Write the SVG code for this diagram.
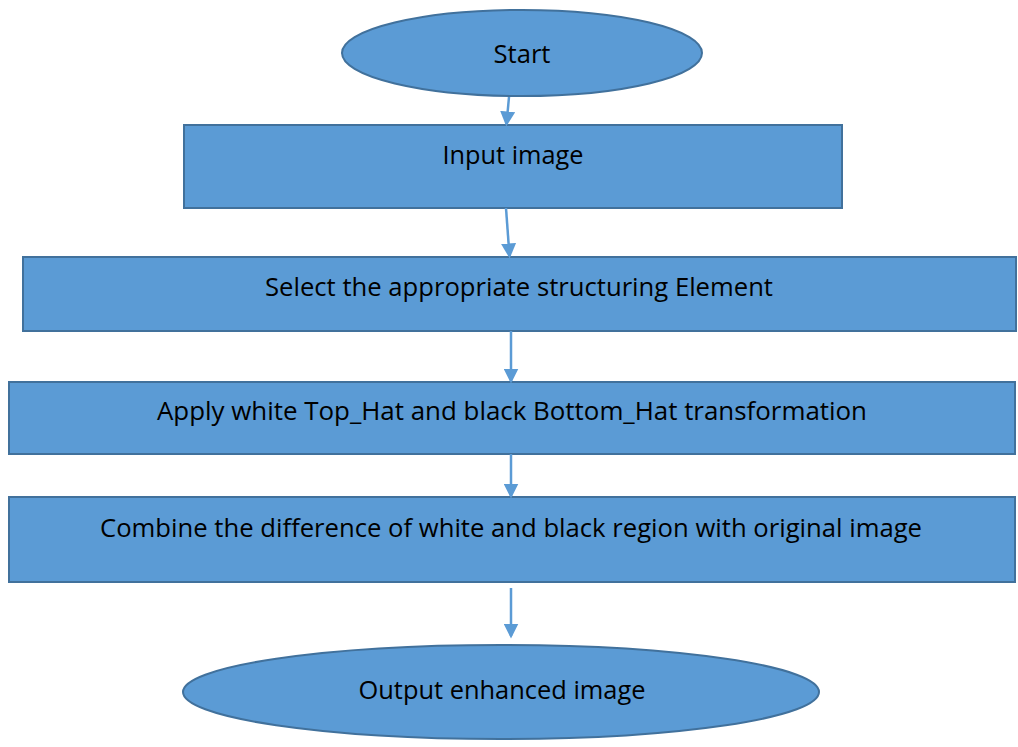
<svg xmlns="http://www.w3.org/2000/svg" width="1018" height="747" viewBox="0 0 1018 747">
<style>
.n{fill:#5B9BD5;stroke:#41719C;stroke-width:2}
.t{font-family:"Open Sans","Liberation Sans",sans-serif;font-size:25px;fill:#000;text-anchor:middle}
.c{stroke:#5B9BD5;stroke-width:2.5;fill:none}
</style>
<defs>
<marker id="ah" markerWidth="6" markerHeight="6" refX="5" refY="3" orient="auto" markerUnits="strokeWidth">
<path d="M0,0 L6,3 L0,6 Z" fill="#5B9BD5"/>
</marker>
</defs>
<rect width="1018" height="747" fill="#fff"/>
<g id="start"><ellipse class="n" cx="522" cy="53" rx="180" ry="43"/><text class="t" x="522" y="63" textLength="57" lengthAdjust="spacingAndGlyphs">Start</text></g>
<g id="input"><rect class="n" x="184" y="125" width="658" height="83"/><text class="t" x="513" y="164" textLength="141" lengthAdjust="spacingAndGlyphs">Input image</text></g>
<g id="select"><rect class="n" x="23" y="257" width="993" height="74"/><text class="t" x="519" y="296" textLength="508" lengthAdjust="spacingAndGlyphs">Select the appropriate structuring Element</text></g>
<g id="apply"><rect class="n" x="9" y="382" width="1006" height="72"/><text class="t" x="512" y="420" textLength="710" lengthAdjust="spacingAndGlyphs">Apply white Top_Hat and black Bottom_Hat transformation</text></g>
<g id="combine"><rect class="n" x="9" y="497" width="1006" height="85"/><text class="t" x="511" y="537" textLength="822" lengthAdjust="spacingAndGlyphs">Combine the difference of white and black region with original image</text></g>
<g id="output"><ellipse class="n" cx="501" cy="692" rx="318" ry="47"/><text class="t" x="502" y="699" textLength="287" lengthAdjust="spacingAndGlyphs">Output enhanced image</text></g>
<g id="connectors">
<line class="c" x1="509" y1="97" x2="506.5" y2="124" marker-end="url(#ah)"/>
<line class="c" x1="506" y1="208" x2="509.5" y2="256" marker-end="url(#ah)"/>
<line class="c" x1="511" y1="331" x2="511" y2="381" marker-end="url(#ah)"/>
<line class="c" x1="511" y1="454" x2="511" y2="496" marker-end="url(#ah)"/>
<line class="c" x1="511" y1="588" x2="511" y2="636" marker-end="url(#ah)"/>
</g>
</svg>
